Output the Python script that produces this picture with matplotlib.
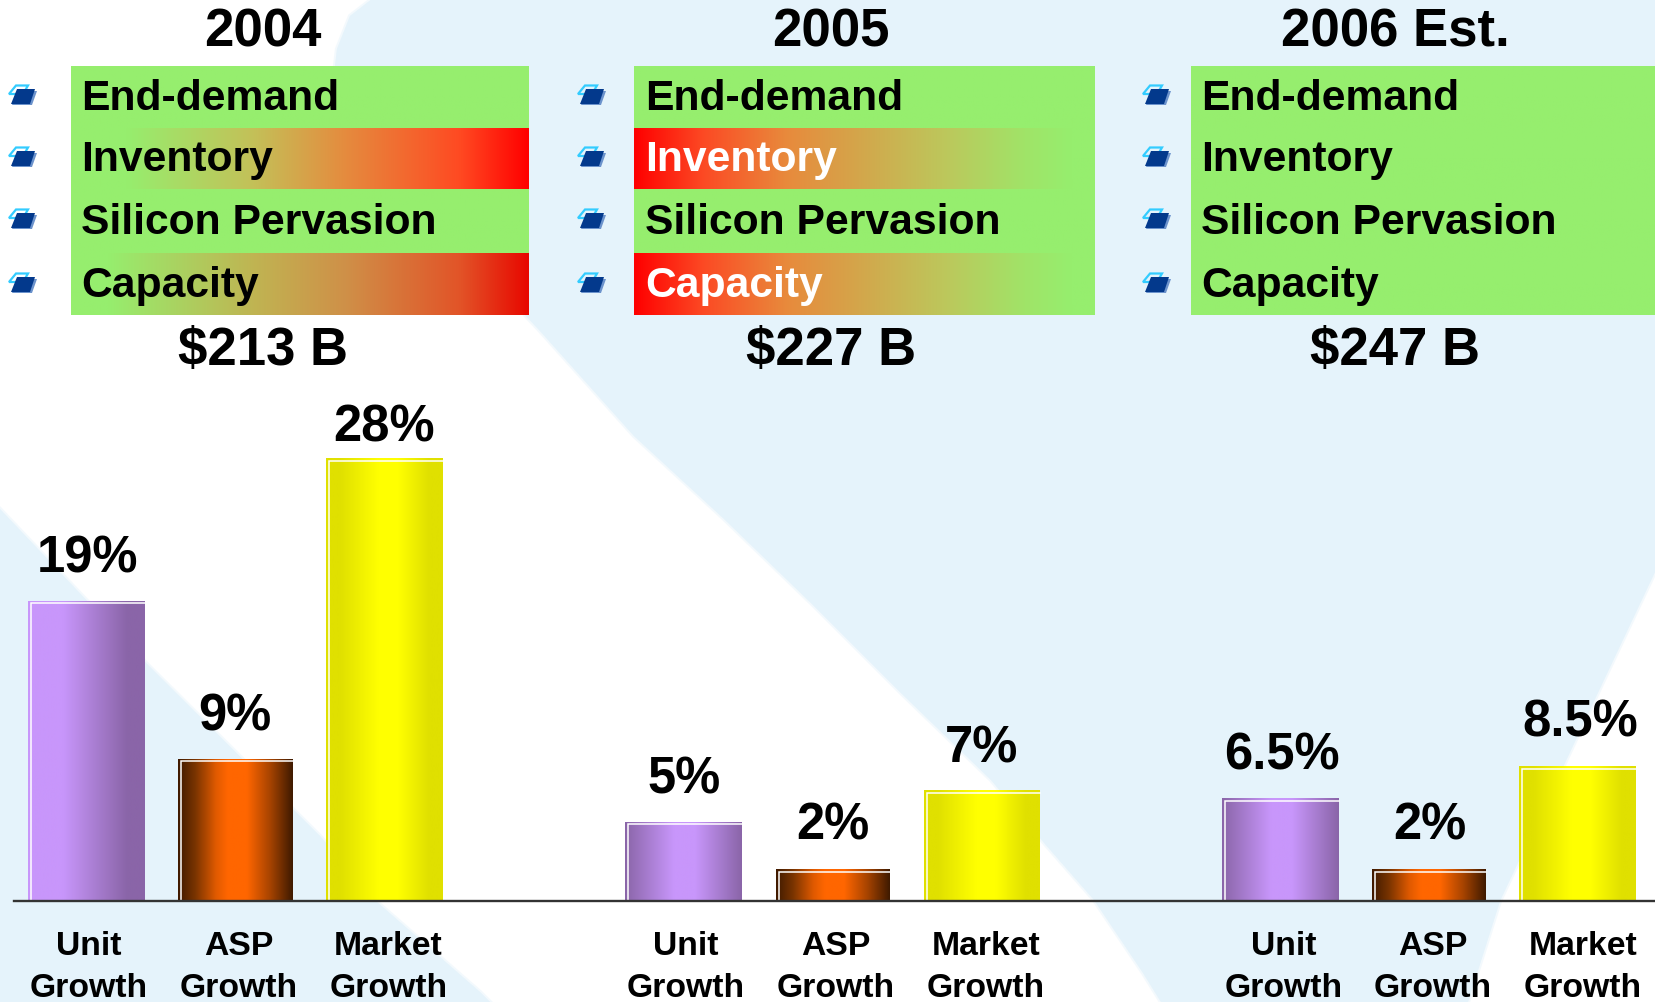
import numpy as np
import matplotlib
matplotlib.use("Agg")
import matplotlib.pyplot as plt
from matplotlib.colors import LinearSegmentedColormap
from matplotlib.patches import Polygon, Rectangle

plt.rcParams['font.family'] = ['Liberation Sans', 'DejaVu Sans']
plt.rcParams['font.weight'] = 'bold'

W, H = 1655, 1003
BASE_Y = 901.7
PX_PER_PCT = 15.8

years = ["2004", "2005", "2006 Est."]
totals = ["$213 B", "$227 B", "$247 B"]
drivers = ["End-demand", "Inventory", "Silicon Pervasion", "Capacity"]
status_2004 = ["green", "to_red", "green", "to_dark_red"]
status_2005 = ["green", "from_red", "green", "from_red"]
status_2006 = ["green", "green", "green", "green"]
categories = [("Unit", "Growth"), ("ASP", "Growth"), ("Market", "Growth")]
growth_2004 = [19, 9, 28]
growth_2005 = [5, 2, 7]
growth_2006 = [6.5, 2, 8.5]
growth_labels_2004 = ["19%", "9%", "28%"]
growth_labels_2005 = ["5%", "2%", "7%"]
growth_labels_2006 = ["6.5%", "2%", "8.5%"]

# layout, in reference pixels
title_x = [263, 830.6, 1395]
status_left = [71, 634, 1190.6]
status_right = [529, 1094.6, 1655]
text_left = [81, 645, 1201]
bullet_x = [8, 577, 1142]
row_edges = [67, 129, 190, 254, 316]
row_baselines = [109.5, 171, 234, 297]
bar_lefts = [[28, 178, 326], [625, 776, 924], [1222, 1372, 1519]]
bar_rights = [[145, 293, 443], [742, 890, 1040], [1339, 1486, 1636]]
cat_x = [[88.6, 238.5, 388.4], [686, 836, 986], [1283.5, 1433, 1583]]
label_gap = [[29, 29, 18], [29, 31, 29], [29, 31, 31]]
label_dx = [[1.5, -1, 0], [1, 0, 0], [1, 1, 3]]

BLUE = "#E5F3FB"
GREEN = "#96EE6E"

status_stops = {
    "green": [(0, GREEN), (1, GREEN)],
    "to_red": [(0, GREEN), (0.12, GREEN), (0.4, "#C4C058"), (0.6, "#E58B3E"),
               (0.85, "#FF4A22"), (1, "#FF0000")],
    "to_dark_red": [(0, GREEN), (0.08, GREEN), (0.4, "#C0B452"), (0.6, "#CF9048"),
                    (0.85, "#E25428"), (1, "#E80800")],
    "from_red": [(0, "#FF0000"), (0.15, "#FC4A24"), (0.33, "#E88A3C"), (0.5, "#D2A84C"),
                 (0.68, "#BCC85C"), (0.85, "#A0E468"), (0.95, GREEN), (1, GREEN)],
}

PURPLE_L, PURPLE_D = "#C896FB", "#8A65A8"
ORANGE_L, ORANGE_D = "#FF6600", "#3F1A00"
YELLOW_L, YELLOW_D = "#FFFF00", "#E0E000"
orange_stops = [(0, ORANGE_D), (0.15, "#7A3400"), (0.33, "#E05A00"), (0.43, ORANGE_L),
                (0.6, ORANGE_L), (0.8, "#A84400"), (1, ORANGE_D)]
yellow_stops = [(0, YELLOW_D), (0.12, YELLOW_D), (0.45, YELLOW_L), (0.62, YELLOW_L),
                (0.88, YELLOW_D), (1, YELLOW_D)]
purple_mid_stops = [(0, PURPLE_D), (0.42, PURPLE_L), (0.6, PURPLE_L), (1, PURPLE_D)]
bar_stops = [
    [[(0, PURPLE_L), (0.3, PURPLE_L), (0.85, PURPLE_D), (1, PURPLE_D)], orange_stops, yellow_stops],
    [purple_mid_stops, orange_stops, yellow_stops],
    [purple_mid_stops, orange_stops, yellow_stops],
]

ramp = np.linspace(0, 1, 256).reshape(1, -1)


def cmap_from(stops):
    return LinearSegmentedColormap.from_list("g", stops, N=256)


fig = plt.figure(figsize=(W / 100, H / 100), dpi=100)

# page furniture, y pointing down in pixels
bg = fig.add_axes([0, 0, 1, 1])
bg.set_xlim(0, W)
bg.set_ylim(H, 0)
bg.axis("off")

upper_blue = [(372, 0), (350, 17), (337, 50), (335, 67), (525, 316), (540, 332), (634, 437),
              (723, 519), (812, 605), (902, 695), (991, 781), (1045, 845), (1094, 901),
              (1143, 974), (1161, 1003), (1468, 1003), (1500, 902), (1548, 800), (1595, 700),
              (1655, 573), (1655, 0)]
lower_blue = [(0, 510), (147, 665), (320, 837), (377, 903), (480, 993), (490, 1003), (0, 1003)]
for shape in (upper_blue, lower_blue):
    # soft rim, the slide background is slightly blurred
    bg.add_patch(Polygon(shape, closed=True, fc=BLUE, ec=BLUE, lw=3, alpha=0.45))
    bg.add_patch(Polygon(shape, closed=True, fc=BLUE, ec="none"))

for g, rows in enumerate([status_2004, status_2005, status_2006]):
    bg.text(title_x[g], 46, years[g], ha="center", va="baseline", fontsize=38, color="black")
    bg.text(title_x[g], 365, totals[g], ha="center", va="baseline", fontsize=38, color="black")
    for r, name in enumerate(drivers):
        top, bottom = row_edges[r], row_edges[r + 1]
        bg.imshow(ramp, cmap=cmap_from(status_stops[rows[r]]), aspect="auto",
                  extent=[status_left[g], status_right[g], bottom, top], vmin=0, vmax=1, zorder=2)
        color = "white" if rows[r] == "from_red" else "black"
        bg.text(text_left[g], row_baselines[r], name, ha="left", va="baseline",
                fontsize=30.7, color=color, zorder=3)
        # bullet: outlined sheet behind a dark one
        bx, by = bullet_x[g], top + 19 if r < 2 else top + 20
        bg.add_patch(Polygon([(bx + 10, by + 6), (bx + 29, by + 6), (bx + 24, by + 20), (bx + 4, by + 20)],
                             closed=True, fc="#6C93CC", ec="none", zorder=3))
        bg.add_patch(Polygon([(bx + 8, by + 0.5), (bx + 20, by + 0.5), (bx + 15, by + 9), (bx + 1, by + 9)],
                             closed=True, fc="none", ec="#33CCFF", lw=1.6, zorder=3))
        bg.add_patch(Polygon([(bx + 9, by + 4), (bx + 27, by + 4), (bx + 22, by + 19), (bx + 3, by + 19)],
                             closed=True, fc="#03398C", ec="none", zorder=4))
bg.set_xlim(0, W)
bg.set_ylim(H, 0)

# growth bars
ax = fig.add_axes([0, 0, 1, 1])
ax.patch.set_alpha(0)
ax.axis("off")

series = [growth_2004, growth_2005, growth_2006]
series_labels = [growth_labels_2004, growth_labels_2005, growth_labels_2006]
for g, values in enumerate(series):
    for i, v in enumerate(values):
        x0, x1 = bar_lefts[g][i], bar_rights[g][i]
        ax.bar(x0, v, width=x1 - x0, align="edge", color="none", zorder=2)
        im = ax.imshow(ramp, cmap=cmap_from(bar_stops[g][i]), aspect="auto",
                       extent=[x0, x1, 0, v], vmin=0, vmax=1, zorder=2)
        im.set_clip_path(Rectangle((x0, 0), x1 - x0, v, transform=ax.transData))
        inset = 2.5 / PX_PER_PCT
        ax.plot([x0 + 2.5, x0 + 2.5, x1], [0, v - inset, v - inset], color="white", lw=1.1,
                zorder=3, solid_joinstyle="miter")
        ax.annotate(series_labels[g][i], ((x0 + x1) / 2 + label_dx[g][i], v),
                    xytext=(0, label_gap[g][i] * 0.72), textcoords="offset points",
                    ha="center", va="baseline", fontsize=36.5, color="black", zorder=4)
ax.set_xlim(0, W)
ax.set_ylim(-(H - BASE_Y) / PX_PER_PCT, BASE_Y / PX_PER_PCT)

ax.plot([13.5, W], [0, 0], color="#333333", lw=1.7, zorder=5)

for g in range(3):
    for i, (first, second) in enumerate(categories):
        bg.text(cat_x[g][i], 955, first, ha="center", va="baseline", fontsize=24.3, color="black")
        bg.text(cat_x[g][i], 997, second, ha="center", va="baseline", fontsize=24.3, color="black")

fig.savefig("out.png", dpi=100)
